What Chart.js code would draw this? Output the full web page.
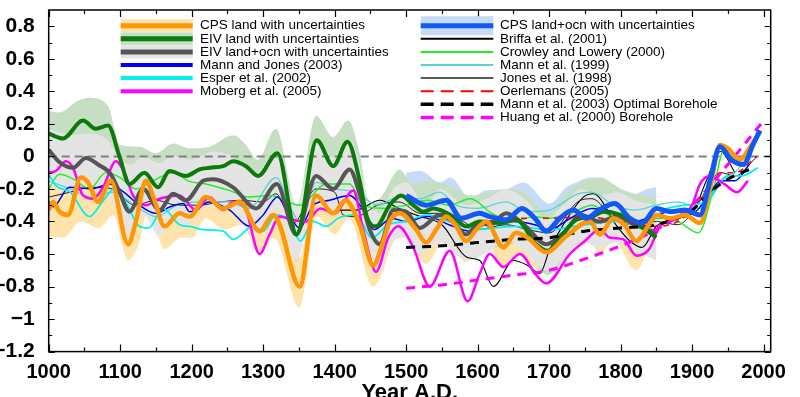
<!DOCTYPE html>
<html>
<head>
<meta charset="utf-8">
<title>NH temperature reconstructions</title>
<script src="https://cdn.jsdelivr.net/npm/chart.js@4.4.0/dist/chart.umd.min.js"></script>
<style>
  html, body { margin: 0; padding: 0; background: #fff; }
  #wrap { width: 800px; height: 397px; }
</style>
</head>
<body>
<div id="wrap"><canvas id="myChart" width="800" height="397"></canvas></div>
<script>
// ---- data: [year, anomaly] ----
var xTicks = [1000, 1100, 1200, 1300, 1400, 1500, 1600, 1700, 1800, 1900, 2000];
var yTicks = [-1.2, -1, -0.8, -0.6, -0.4, -0.2, 0, 0.2, 0.4, 0.6, 0.8];

var cpsLand = [[1000,-0.33],[1006,-0.28],[1015,-0.34],[1027,-0.36],[1045,-0.13],[1055,-0.16],[1069,-0.28],[1087,-0.15],
  [1111,-0.54],[1122,-0.40],[1136,-0.15],[1148,-0.27],[1162,-0.43],[1183,-0.35],[1197,-0.37],[1220,-0.25],[1244,-0.32],
  [1267,-0.28],[1295,-0.46],[1314,-0.36],[1323,-0.42],[1351,-0.80],[1374,-0.24],[1398,-0.35],[1415,-0.27],[1435,-0.42],
  [1454,-0.67],[1466,-0.55],[1477,-0.40],[1491,-0.35],[1514,-0.45],[1528,-0.53],[1542,-0.45],[1556,-0.37],[1570,-0.43],
  [1584,-0.52],[1598,-0.45],[1612,-0.40],[1636,-0.56],[1654,-0.47],[1670,-0.50],[1696,-0.59],[1724,-0.49],[1757,-0.40],
  [1771,-0.48],[1790,-0.38],[1805,-0.42],[1822,-0.52],[1841,-0.41],[1850,-0.36],[1870,-0.38],[1890,-0.36],[1911,-0.41],
  [1925,-0.20],[1939,0.07],[1950,0.05],[1967,-0.02],[1980,0.05],[1995,0.15]];
var cpsLandUpper = [[1000,-0.20],[1045,0.00],[1069,-0.15],[1087,-0.03],[1111,-0.42],[1136,-0.03],[1162,-0.30],[1197,-0.25],
  [1220,-0.13],[1244,-0.20],[1267,-0.16],[1295,-0.34],[1314,-0.24],[1351,-0.62],[1374,-0.12],[1398,-0.23],[1421,-0.13],
  [1454,-0.54],[1491,-0.22],[1528,-0.41],[1556,-0.25],[1584,-0.40],[1612,-0.28],[1636,-0.43],[1654,-0.34],[1696,-0.46],
  [1724,-0.36],[1757,-0.27],[1771,-0.35],[1790,-0.25],[1822,-0.39],[1841,-0.28],[1850,-0.24]];
var cpsLandLower = [[1000,-0.49],[1020,-0.50],[1045,-0.40],[1070,-0.44],[1090,-0.36],[1111,-0.64],[1125,-0.55],[1140,-0.32],
  [1162,-0.57],[1185,-0.50],[1200,-0.50],[1220,-0.38],[1245,-0.45],[1270,-0.42],[1295,-0.60],[1315,-0.50],[1351,-0.93],
  [1375,-0.37],[1400,-0.48],[1420,-0.38],[1454,-0.80],[1491,-0.48],[1528,-0.66],[1556,-0.50],[1584,-0.65],[1612,-0.53],
  [1636,-0.69],[1654,-0.60],[1696,-0.72],[1724,-0.62],[1757,-0.53],[1771,-0.60],[1790,-0.52],[1822,-0.70],[1841,-0.56],[1850,-0.52]];

var eivLand = [[1000,0.14],[1020,0.11],[1048,0.22],[1066,0.17],[1083,0.19],[1099,0.00],[1113,-0.17],[1134,-0.10],
  [1153,-0.19],[1169,-0.09],[1192,-0.12],[1211,-0.08],[1225,-0.07],[1244,-0.06],[1258,-0.03],[1276,-0.06],[1293,-0.12],
  [1320,0.02],[1347,-0.48],[1375,0.10],[1398,-0.06],[1418,0.09],[1435,-0.15],[1445,-0.37],[1458,-0.43],[1477,-0.30],
  [1493,-0.24],[1510,-0.30],[1524,-0.34],[1538,-0.32],[1566,-0.37],[1584,-0.43],[1603,-0.40],[1631,-0.41],[1654,-0.39],
  [1682,-0.54],[1698,-0.58],[1717,-0.49],[1738,-0.39],[1760,-0.37],[1776,-0.34],[1800,-0.36],[1825,-0.42],[1850,-0.50]];
var eivLandUpper = [[1000,0.28],[1015,0.27],[1040,0.34],[1057,0.36],[1083,0.31],[1100,0.07],[1127,0.06],[1150,0.02],
  [1174,0.08],[1197,0.05],[1225,0.06],[1258,0.13],[1276,0.07],[1292,-0.02],[1318,0.17],[1347,-0.30],[1374,0.25],
  [1398,0.12],[1419,0.22],[1435,0.02],[1449,-0.30],[1465,-0.25],[1491,-0.08],[1510,-0.17],[1533,-0.15],[1560,-0.18],
  [1590,-0.24],[1620,-0.22],[1640,-0.20],[1664,-0.22],[1700,-0.35],[1720,-0.25],[1740,-0.17],[1771,-0.13],[1800,-0.20],
  [1830,-0.24],[1850,-0.25]];
var eivLandLower = [[1000,0.00],[1020,-0.03],[1048,0.07],[1066,0.02],[1083,0.04],[1099,-0.15],[1113,-0.32],[1134,-0.25],
  [1153,-0.34],[1169,-0.24],[1192,-0.27],[1220,-0.22],[1258,-0.18],[1293,-0.27],[1320,-0.13],[1347,-0.65],[1375,-0.05],
  [1398,-0.21],[1418,-0.06],[1445,-0.52],[1458,-0.58],[1493,-0.40],[1533,-0.52],[1566,-0.52],[1603,-0.54],[1631,-0.56],
  [1660,-0.53],[1698,-0.73],[1738,-0.54],[1776,-0.49],[1813,-0.55],[1850,-0.62]];

var eivLandOcn = [[1000,0.04],[1015,-0.035],[1034,-0.07],[1052,-0.01],[1069,-0.05],[1087,-0.11],[1099,-0.22],[1113,-0.34],
  [1132,-0.20],[1155,-0.33],[1174,-0.23],[1192,-0.27],[1216,-0.15],[1230,-0.14],[1258,-0.19],[1290,-0.32],[1319,-0.17],
  [1346,-0.48],[1374,-0.12],[1398,-0.20],[1421,-0.08],[1435,-0.23],[1449,-0.45],[1463,-0.54],[1482,-0.33],[1500,-0.34],
  [1519,-0.44],[1547,-0.36],[1565,-0.40],[1584,-0.48],[1603,-0.41],[1617,-0.42],[1640,-0.35],[1665,-0.42],[1696,-0.54],
  [1720,-0.47],[1745,-0.36],[1770,-0.40],[1795,-0.37],[1820,-0.42],[1850,-0.47]];
var eivLandOcnUpper = [[1000,0.17],[1034,0.13],[1052,0.14],[1080,0.11],[1099,-0.01],[1115,-0.05],[1132,0.00],[1155,-0.04],
  [1174,0.00],[1200,-0.02],[1230,0.03],[1258,0.00],[1290,-0.10],[1319,0.03],[1346,-0.30],[1374,0.08],[1398,0.00],
  [1421,0.10],[1449,-0.28],[1463,-0.35],[1482,-0.20],[1500,-0.16],[1528,-0.30],[1547,-0.20],[1585,-0.30],[1617,-0.25],
  [1640,-0.20],[1665,-0.26],[1696,-0.38],[1720,-0.30],[1745,-0.20],[1770,-0.24],[1795,-0.22],[1820,-0.27],[1850,-0.30]];
var eivLandOcnLower = [[1000,-0.11],[1015,-0.19],[1034,-0.22],[1052,-0.17],[1069,-0.20],[1087,-0.27],[1113,-0.50],
  [1132,-0.36],[1155,-0.49],[1174,-0.39],[1192,-0.43],[1216,-0.31],[1258,-0.35],[1290,-0.48],[1319,-0.33],[1346,-0.64],
  [1374,-0.28],[1398,-0.36],[1421,-0.24],[1449,-0.60],[1463,-0.70],[1482,-0.52],[1500,-0.50],[1519,-0.60],[1547,-0.53],
  [1585,-0.64],[1617,-0.58],[1640,-0.51],[1665,-0.58],[1696,-0.70],[1720,-0.63],[1745,-0.52],[1770,-0.56],[1795,-0.53],
  [1820,-0.58],[1850,-0.64]];

var cpsLandOcn = [[1500,-0.24],[1528,-0.30],[1556,-0.27],[1577,-0.38],[1603,-0.35],[1617,-0.37],[1640,-0.39],[1662,-0.32],
  [1680,-0.38],[1696,-0.46],[1715,-0.38],[1734,-0.33],[1752,-0.38],[1770,-0.33],[1792,-0.29],[1813,-0.38],[1830,-0.41],
  [1850,-0.32],[1870,-0.34],[1890,-0.33],[1911,-0.36],[1925,-0.15],[1939,0.06],[1955,-0.02],[1972,-0.05],[1985,0.07],[1995,0.16]];
var cpsLandOcnUpper = [[1500,-0.10],[1520,-0.09],[1547,-0.16],[1562,-0.13],[1590,-0.26],[1610,-0.21],[1640,-0.20],
  [1664,-0.16],[1701,-0.29],[1724,-0.19],[1738,-0.16],[1757,-0.13],[1776,-0.14],[1800,-0.20],[1813,-0.24],[1838,-0.20],[1850,-0.19]];
var cpsLandOcnLower = [[1500,-0.38],[1530,-0.44],[1562,-0.41],[1585,-0.55],[1617,-0.51],[1662,-0.46],[1696,-0.60],
  [1734,-0.47],[1770,-0.47],[1792,-0.43],[1830,-0.55],[1850,-0.46]];

var mannJones2003 = [[1000,-0.28],[1006,-0.31],[1029,-0.19],[1060,-0.20],[1085,-0.17],[1105,-0.22],[1127,-0.30],[1150,-0.35],
  [1170,-0.31],[1188,-0.29],[1197,-0.34],[1225,-0.28],[1253,-0.33],[1281,-0.43],[1300,-0.36],[1320,-0.25],[1335,-0.35],
  [1351,-0.44],[1370,-0.30],[1393,-0.27],[1421,-0.24],[1440,-0.33],[1455,-0.45],[1480,-0.38],[1500,-0.40],[1530,-0.37],
  [1560,-0.42],[1590,-0.46],[1620,-0.40],[1650,-0.40],[1680,-0.42],[1700,-0.45],[1730,-0.38],[1760,-0.32],[1790,-0.34],
  [1820,-0.40],[1850,-0.36],[1880,-0.33],[1900,-0.35],[1920,-0.26],[1940,-0.15],[1960,-0.15],[1980,-0.05]];
var esper2002 = [[1000,-0.11],[1010,-0.18],[1030,-0.22],[1057,-0.37],[1075,-0.28],[1094,-0.19],[1110,-0.30],[1127,-0.43],
  [1140,-0.44],[1160,-0.32],[1183,-0.42],[1197,-0.43],[1216,-0.45],[1244,-0.46],[1258,-0.51],[1286,-0.43],[1300,-0.46],
  [1318,-0.36],[1337,-0.40],[1352,-0.52],[1370,-0.40],[1388,-0.43],[1405,-0.38],[1430,-0.36],[1452,-0.50],[1475,-0.42],
  [1500,-0.40],[1530,-0.36],[1560,-0.40],[1600,-0.45],[1650,-0.43],[1700,-0.45],[1750,-0.42],[1800,-0.40],[1830,-0.44],
  [1860,-0.33],[1890,-0.30],[1920,-0.28],[1950,-0.12],[1970,-0.12],[1992,-0.07]];
var moberg2005 = [[1000,-0.10],[1010,-0.09],[1024,-0.03],[1034,-0.07],[1048,-0.24],[1062,-0.26],[1076,-0.19],[1094,-0.03],
  [1106,-0.10],[1118,-0.24],[1136,-0.30],[1155,-0.26],[1183,-0.24],[1206,-0.33],[1225,-0.25],[1244,-0.33],[1258,-0.28],
  [1275,-0.32],[1295,-0.60],[1309,-0.48],[1323,-0.37],[1342,-0.39],[1360,-0.40],[1380,-0.32],[1400,-0.35],[1426,-0.21],
  [1440,-0.45],[1458,-0.71],[1475,-0.50],[1489,-0.43],[1510,-0.56],[1533,-0.80],[1561,-0.58],[1586,-0.89],[1603,-0.72],
  [1617,-0.60],[1636,-0.68],[1659,-0.60],[1682,-0.73],[1696,-0.78],[1729,-0.60],[1750,-0.52],[1771,-0.45],[1785,-0.50],
  [1804,-0.51],[1822,-0.61],[1840,-0.57],[1855,-0.43],[1880,-0.38],[1900,-0.30],[1911,-0.17],[1925,-0.12],[1945,-0.17],
  [1963,-0.22],[1978,-0.15]];
var briffa2001 = [[1402,-0.33],[1430,-0.33],[1463,-0.27],[1490,-0.32],[1520,-0.37],[1550,-0.42],[1585,-0.62],[1603,-0.64],
  [1622,-0.80],[1650,-0.64],[1670,-0.67],[1687,-0.72],[1701,-0.57],[1724,-0.39],[1748,-0.25],[1762,-0.23],[1795,-0.43],
  [1813,-0.52],[1830,-0.56],[1850,-0.43],[1880,-0.38],[1900,-0.35],[1920,-0.15],[1940,0.03],[1960,-0.10]];
var crowleyLowery2000 = [[1000,-0.20],[1015,-0.11],[1035,-0.14],[1057,-0.20],[1080,-0.10],[1100,-0.13],[1122,-0.20],
  [1146,-0.15],[1174,-0.10],[1195,-0.15],[1220,-0.17],[1253,-0.21],[1280,-0.25],[1310,-0.24],[1351,-0.30],[1388,-0.17],
  [1421,-0.17],[1440,-0.30],[1470,-0.32],[1500,-0.30],[1530,-0.27],[1560,-0.30],[1590,-0.26],[1620,-0.35],[1650,-0.40],
  [1680,-0.37],[1700,-0.38],[1730,-0.35],[1760,-0.30],[1790,-0.38],[1820,-0.42],[1850,-0.38],[1880,-0.40],[1909,-0.47],
  [1930,-0.20],[1944,0.03],[1965,-0.05]];
var mann1999 = [[1000,-0.15],[1030,-0.20],[1060,-0.25],[1090,-0.22],[1120,-0.30],[1150,-0.37],[1180,-0.30],[1210,-0.28],
  [1250,-0.28],[1280,-0.32],[1318,-0.13],[1340,-0.33],[1351,-0.40],[1374,-0.16],[1400,-0.20],[1430,-0.22],[1460,-0.30],
  [1490,-0.25],[1520,-0.26],[1547,-0.22],[1570,-0.30],[1600,-0.32],[1640,-0.28],[1670,-0.34],[1700,-0.33],[1740,-0.23],
  [1760,-0.22],[1790,-0.30],[1820,-0.33],[1850,-0.30],[1880,-0.28],[1910,-0.32],[1940,-0.15],[1960,-0.10],[1980,0.02]];
var jones1998 = [[1000,-0.25],[1030,-0.22],[1060,-0.19],[1090,-0.20],[1120,-0.30],[1150,-0.27],[1180,-0.30],[1210,-0.30],
  [1240,-0.28],[1270,-0.27],[1300,-0.28],[1318,-0.23],[1342,-0.41],[1374,-0.20],[1400,-0.22],[1412,-0.36],[1430,-0.37],
  [1460,-0.30],[1490,-0.28],[1520,-0.35],[1550,-0.35],[1580,-0.40],[1600,-0.45],[1640,-0.42],[1670,-0.45],[1700,-0.47],
  [1740,-0.28],[1760,-0.26],[1790,-0.38],[1820,-0.42],[1850,-0.40],[1880,-0.42],[1900,-0.35],[1940,-0.10],[1960,-0.12],[1991,0.00]];
var oerlemans2005 = [[1600,-0.42],[1650,-0.38],[1700,-0.38],[1750,-0.37],[1800,-0.40],[1850,-0.43],[1880,-0.40],
  [1900,-0.33],[1920,-0.20],[1940,-0.10],[1960,-0.10],[1990,0.00]];
var mannBorehole2003 = [[1500,-0.56],[1550,-0.55],[1600,-0.53],[1650,-0.51],[1700,-0.50],[1750,-0.46],[1800,-0.44],
  [1850,-0.42],[1900,-0.33],[1925,-0.22],[1950,-0.14],[1980,-0.08]];
var huangBorehole2000 = [[1500,-0.81],[1550,-0.79],[1600,-0.76],[1650,-0.73],[1700,-0.70],[1750,-0.63],[1800,-0.55],
  [1850,-0.45],[1900,-0.30],[1950,-0.05],[2000,0.22]];
var zeroLine = [[1000,0],[2010,0]];

var FONT = "'Liberation Sans', Arial, Helvetica, sans-serif";

function pts(arr) {
  return arr.map(function (p) { return { x: p[0], y: p[1] }; });
}

function line(arr, color, width, order, dash) {
  return {
    data: pts(arr),
    borderColor: color,
    borderWidth: width,
    borderDash: dash || [],
    pointRadius: 0,
    fill: false,
    cubicInterpolationMode: 'monotone',
    order: order
  };
}

// upper curve is filled down to the next dataset (the lower curve)
function band(upper, lower, color, order) {
  return [{
    data: pts(upper), borderColor: 'rgba(0,0,0,0)', borderWidth: 0, pointRadius: 0,
    backgroundColor: color, fill: '+1', cubicInterpolationMode: 'monotone', order: order
  }, {
    data: pts(lower), borderColor: 'rgba(0,0,0,0)', borderWidth: 0, pointRadius: 0,
    fill: false, cubicInterpolationMode: 'monotone', order: order
  }];
}

var datasets = [].concat(
  [line(cpsLandOcn, '#1059f5', 5, 1)],
  [line(cpsLand, '#ff9605', 4.5, 2)],
  [line(huangBorehole2000, '#ff00ff', 3, 3, [9, 7])],
  [line(mannBorehole2003, '#000000', 3, 4, [9, 7])],
  [line(oerlemans2005, '#ff0000', 1.5, 5, [6, 5])],
  [line(eivLand, '#0b7a0b', 4, 6)],
  [line(eivLandOcn, '#555555', 4, 7)],
  [line(moberg2005, '#ff00ff', 2.5, 8)],
  [line(esper2002, '#00f0f0', 1.8, 9)],
  [line(mannJones2003, '#0000ee', 1.5, 10)],
  [line(crowleyLowery2000, '#22ee22', 1.4, 11)],
  [line(mann1999, '#55d5d5', 1.3, 12)],
  [line(jones1998, '#222222', 1, 13)],
  [line(briffa2001, '#000000', 1.1, 14)],
  [line(zeroLine, '#808080', 2, 15, [8, 5])],
  band(eivLandOcnUpper, eivLandOcnLower, '#e4e4e4', 16),
  band(eivLandUpper, eivLandLower, '#c6dfc2', 17),
  band(cpsLandOcnUpper, cpsLandOcnLower, '#c6dbf6', 18),
  band(cpsLandUpper, cpsLandLower, '#fee4aa', 19)
);

var legendLeft = [
  { label: 'CPS land with uncertainties', color: '#ff9605', w: 5, band: '#fee4aa', bh: 13 },
  { label: 'EIV land with uncertainties', color: '#0b7a0b', w: 5, band: '#c6dfc2', bh: 13 },
  { label: 'EIV land+ocn with uncertainties', color: '#555555', w: 5, band: '#e4e4e4', bh: 13 },
  { label: 'Mann and Jones (2003)', color: '#0000ee', w: 4 },
  { label: 'Esper et al. (2002)', color: '#00f0f0', w: 4 },
  { label: 'Moberg et al. (2005)', color: '#ff00ff', w: 4 }
];
var legendRight = [
  { label: 'CPS land+ocn with uncertainties', color: '#1059f5', w: 5, band: '#c6dbf6', bh: 19 },
  { label: 'Briffa et al. (2001)', color: '#000000', w: 2 },
  { label: 'Crowley and Lowery (2000)', color: '#22ee22', w: 2 },
  { label: 'Mann et al. (1999)', color: '#55d5d5', w: 2 },
  { label: 'Jones et al. (1998)', color: '#222222', w: 1.5 },
  { label: 'Oerlemans (2005)', color: '#ff0000', w: 2, dash: [13, 7] },
  { label: 'Mann et al. (2003) Optimal Borehole', color: '#000000', w: 3.5, dash: [13, 7] },
  { label: 'Huang et al. (2000) Borehole', color: '#ff00ff', w: 3.5, dash: [13, 7] }
];

function drawLegend(ctx, items, x0, x1, tx) {
  items.forEach(function (it, i) {
    var yy = 25.7 + i * 13.1;
    if (it.band) {
      ctx.fillStyle = it.band;
      ctx.fillRect(x0, yy - it.bh / 2, x1 - x0, it.bh);
    }
    ctx.beginPath();
    ctx.setLineDash(it.dash || []);
    ctx.strokeStyle = it.color;
    ctx.lineWidth = it.w;
    ctx.moveTo(x0, yy);
    ctx.lineTo(x1, yy);
    ctx.stroke();
    ctx.setLineDash([]);
    ctx.fillStyle = '#000';
    ctx.fillText(it.label, tx, yy);
  });
}

var framePlugin = {
  id: 'frame',
  afterDatasetsDraw: function (chart) {
    var ctx = chart.ctx, a = chart.chartArea, x = chart.scales.x, y = chart.scales.y;
    ctx.save();
    ctx.strokeStyle = '#000';
    ctx.lineWidth = 1.2;
    ctx.beginPath();
    for (var yr = 1000; yr <= 2000; yr += 50) {
      var px = Math.round(x.getPixelForValue(yr)) + 0.5;
      var len = yr % 100 === 0 ? 7 : 4;
      ctx.moveTo(px, a.bottom); ctx.lineTo(px, a.bottom - len);
      ctx.moveTo(px, a.top); ctx.lineTo(px, a.top + len);
    }
    for (var k = -12; k <= 8; k++) {
      var py = Math.round(y.getPixelForValue(k / 10)) + 0.5;
      var l2 = k % 2 === 0 ? 6 : 3.5;
      ctx.moveTo(a.left, py); ctx.lineTo(a.left + l2, py);
      ctx.moveTo(a.right, py); ctx.lineTo(a.right - l2, py);
    }
    ctx.stroke();
    ctx.lineWidth = 1.5;
    ctx.strokeRect(a.left, a.top, a.right - a.left, a.bottom - a.top);
    ctx.restore();
  },
  afterDraw: function (chart) {
    var ctx = chart.ctx, a = chart.chartArea;
    ctx.save();
    ctx.font = '13.5px ' + FONT;
    ctx.textBaseline = 'middle';
    ctx.textAlign = 'left';
    drawLegend(ctx, legendLeft, 120.7, 192.7, 200);
    drawLegend(ctx, legendRight, 420.7, 493.3, 500);
    // axis title
    ctx.font = 'bold 22px ' + FONT;
    ctx.textAlign = 'center';
    ctx.textBaseline = 'alphabetic';
    ctx.fillStyle = '#000';
    ctx.fillText('Year A.D.', (a.left + a.right) / 2, 399);
    ctx.restore();
  }
};

function yLabel(v) {
  if (v === 0) return '0';
  var s = String(parseFloat(Math.abs(v).toFixed(1)));
  return (v < 0 ? '\u2212' : '') + s;
}

new Chart(document.getElementById('myChart').getContext('2d'), {
  type: 'line',
  data: { datasets: datasets },
  options: {
    responsive: false,
    animation: false,
    devicePixelRatio: 1,
    layout: { padding: { left: 0, right: 29.3, top: 10, bottom: 0 } },
    plugins: { legend: { display: false }, tooltip: { enabled: false } },
    elements: { line: { borderCapStyle: 'butt' } },
    scales: {
      x: {
        type: 'linear', min: 1000, max: 2010,
        grid: { display: false }, border: { display: false },
        afterBuildTicks: function (s) { s.ticks = xTicks.map(function (v) { return { value: v }; }); },
        afterFit: function (s) { s.height = 45.4; s.paddingLeft = 0; s.paddingRight = 0; },
        ticks: {
          autoSkip: false, maxRotation: 0, padding: 3, color: '#000',
          font: { family: FONT, size: 20, weight: 'bold', lineHeight: 1 },
          callback: function (v) { return String(v); }
        }
      },
      y: {
        type: 'linear', min: -1.2, max: 0.9,
        grid: { display: false }, border: { display: false },
        afterBuildTicks: function (s) { s.ticks = yTicks.map(function (v) { return { value: v }; }); },
        afterFit: function (s) { s.width = 48.7; s.paddingTop = 0; s.paddingBottom = 0; },
        ticks: {
          padding: 6, color: '#000',
          font: { family: FONT, size: 21, weight: 'bold', lineHeight: 1 },
          callback: yLabel
        }
      }
    }
  },
  plugins: [framePlugin]
});
</script>
</body>
</html>
